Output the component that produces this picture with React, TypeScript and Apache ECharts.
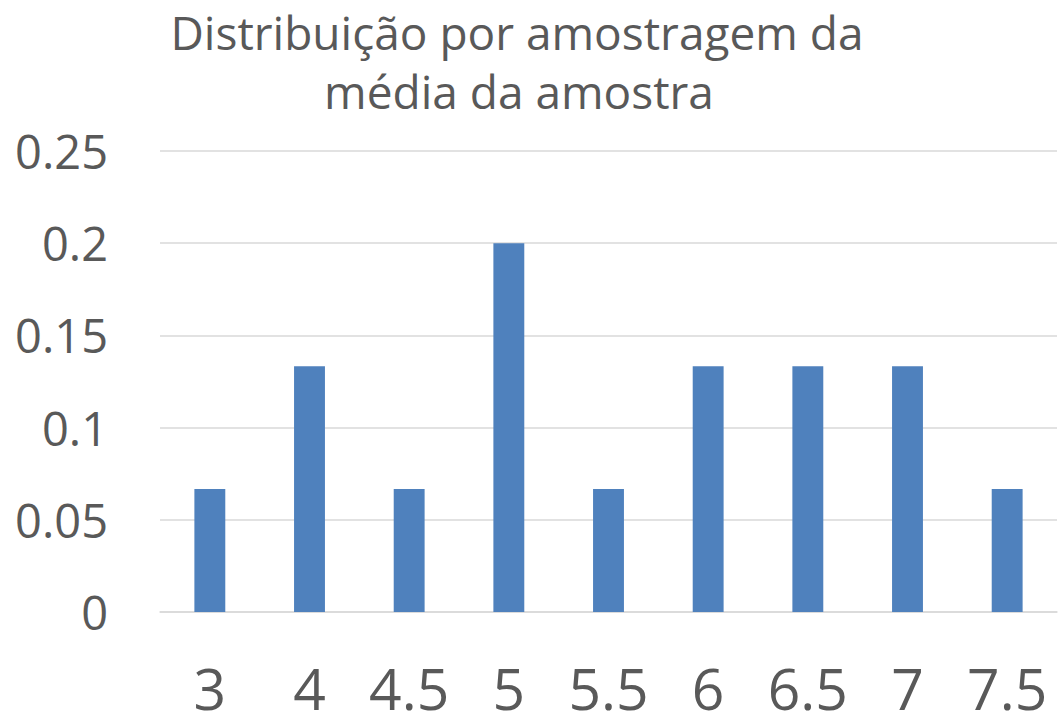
import React, { useEffect, useRef } from "react";
import * as echarts from "echarts";

const categories = ["3", "4", "4.5", "5", "5.5", "6", "6.5", "7", "7.5"];
const values = [0.0667, 0.1333, 0.0667, 0.2, 0.0667, 0.1333, 0.1333, 0.1333, 0.0667];
const titleLines = ["Distribuição por amostragem da", "média da amostra"];

export default function App() {
  const ref = useRef<HTMLDivElement>(null);
  useEffect(() => {
    if (!ref.current) return;
    const chart = echarts.init(ref.current, null, { renderer: "svg" });
    const font = "'Open Sans', sans-serif";
    chart.setOption({
      animation: false,
      backgroundColor: "#ffffff",
      graphic: [
        {
          type: "text",
          style: {
            x: 517,
            y: 32,
            text: titleLines[0],
            fill: "#595959",
            font: `46px ${font}`,
            textAlign: "center",
            textVerticalAlign: "middle",
          },
        },
        {
          type: "text",
          style: {
            x: 519,
            y: 91,
            text: titleLines[1],
            fill: "#595959",
            font: `46px ${font}`,
            textAlign: "center",
            textVerticalAlign: "middle",
          },
        },
      ],
      grid: { left: 160, right: 4, top: 151, bottom: 107 },
      xAxis: {
        type: "category",
        data: categories,
        axisTick: { show: false },
        axisLine: { lineStyle: { color: "#d9d9d9", width: 1.5 } },
        axisLabel: {
          color: "#595959",
          fontSize: 57,
          lineHeight: 44,
          fontFamily: font,
          margin: 54,
          interval: 0,
        },
      },
      yAxis: {
        type: "value",
        min: 0,
        max: 0.25,
        interval: 0.05,
        axisLine: { show: false },
        axisTick: { show: false },
        splitLine: { lineStyle: { color: "#d9d9d9", width: 1.5 } },
        axisLabel: {
          color: "#595959",
          fontSize: 47,
          fontFamily: font,
          margin: 52,
          formatter: (v: number) => String(Math.round(v * 100) / 100),
        },
      },
      series: [
        {
          type: "bar",
          data: values,
          barWidth: "31%",
          itemStyle: { color: "#4f81bd" },
        },
      ],
    });
    return () => chart.dispose();
  }, []);
  return (
    <div
      ref={ref}
      style={{ position: "fixed", left: 0, top: 0, width: 1061, height: 719 }}
    />
  );
}
